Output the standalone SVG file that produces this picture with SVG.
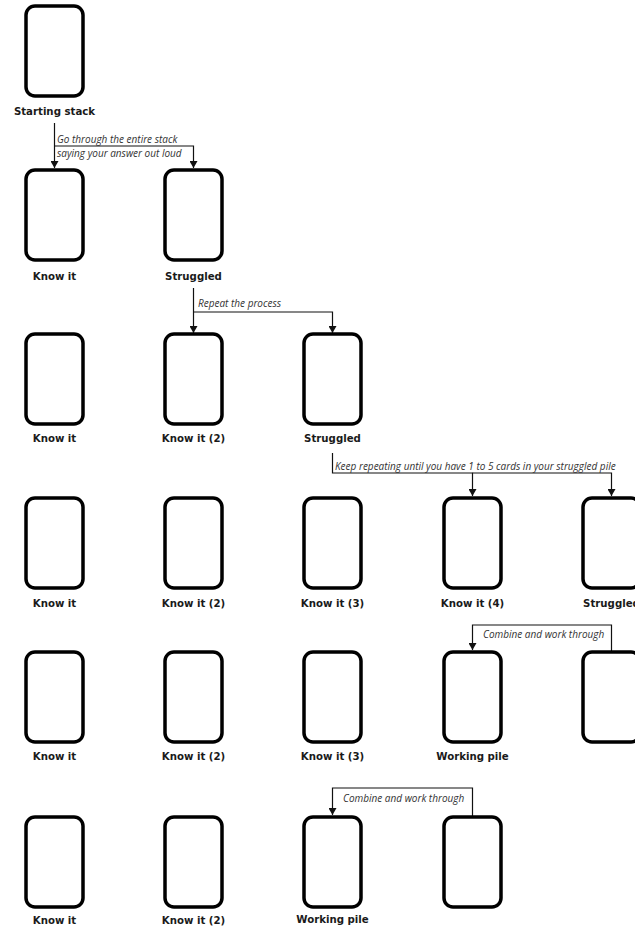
<svg xmlns="http://www.w3.org/2000/svg" width="635" height="929" viewBox="0 0 635 929">
<style>
.card{fill:#fff;stroke:#000;stroke-width:3.5}
.lbl{font-family:"DejaVu Sans","Liberation Sans",sans-serif;font-weight:bold;font-size:10.2px;fill:#1a1a1a;text-anchor:middle}
.note{font-family:"Open Sans","Liberation Sans",sans-serif;font-style:italic;font-size:10px;fill:#333}
.conn{fill:none;stroke:#111;stroke-width:1.2}
</style>
<defs>
<marker id="ad" markerUnits="userSpaceOnUse" markerWidth="8" markerHeight="8" viewBox="0 0 8 8" refX="4" refY="8" orient="0">
<path d="M0,1 L8,1 L4,8 Z" fill="#111"/>
</marker>
<rect id="c" class="card" width="57" height="90" rx="9"/>
</defs>
<rect width="635" height="929" fill="#fff"/>
<g id="connectors">
<path class="conn" d="M54.5,123 V168" marker-end="url(#ad)"/>
<path class="conn" d="M54.5,146 H193.5 V168" marker-end="url(#ad)"/>
<path class="conn" d="M193.5,288 V333" marker-end="url(#ad)"/>
<path class="conn" d="M193.5,312 H332.5 V333" marker-end="url(#ad)"/>
<path class="conn" d="M332.5,453 V473 H472.5 V496" marker-end="url(#ad)"/>
<path class="conn" d="M472.5,473 H611.5 V496" marker-end="url(#ad)"/>
<path class="conn" d="M611.5,652 V625 H472.5 V650" marker-end="url(#ad)"/>
<path class="conn" d="M472.5,817 V788 H332.5 V815" marker-end="url(#ad)"/>
<text class="note" x="57" y="143">Go through the entire stack</text>
<text class="note" x="57" y="157">saying your answer out loud</text>
<text class="note" x="198" y="307">Repeat the process</text>
<text class="note" x="335" y="470">Keep repeating until you have 1 to 5 cards in your struggled pile</text>
<text class="note" x="483" y="638">Combine and work through</text>
<text class="note" x="343" y="802">Combine and work through</text>
</g>
<g id="n1"><use href="#c" x="26" y="6"/><text class="lbl" x="54.5" y="115">Starting stack</text></g>
<g id="n2a"><use href="#c" x="26" y="170"/><text class="lbl" x="54.5" y="280">Know it</text></g>
<g id="n2b"><use href="#c" x="165" y="170"/><text class="lbl" x="193.5" y="280">Struggled</text></g>
<g id="n3a"><use href="#c" x="26" y="334"/><text class="lbl" x="54.5" y="442">Know it</text></g>
<g id="n3b"><use href="#c" x="165" y="334"/><text class="lbl" x="193.5" y="442">Know it (2)</text></g>
<g id="n3c"><use href="#c" x="304" y="334"/><text class="lbl" x="332.5" y="442">Struggled</text></g>
<g id="n4a"><use href="#c" x="26" y="498"/><text class="lbl" x="54.5" y="607">Know it</text></g>
<g id="n4b"><use href="#c" x="165" y="498"/><text class="lbl" x="193.5" y="607">Know it (2)</text></g>
<g id="n4c"><use href="#c" x="304" y="498"/><text class="lbl" x="332.5" y="607">Know it (3)</text></g>
<g id="n4d"><use href="#c" x="444" y="498"/><text class="lbl" x="472.5" y="607">Know it (4)</text></g>
<g id="n4e"><use href="#c" x="583" y="498"/><text class="lbl" x="611.5" y="607">Struggled</text></g>
<g id="n5a"><use href="#c" x="26" y="652"/><text class="lbl" x="54.5" y="760">Know it</text></g>
<g id="n5b"><use href="#c" x="165" y="652"/><text class="lbl" x="193.5" y="760">Know it (2)</text></g>
<g id="n5c"><use href="#c" x="304" y="652"/><text class="lbl" x="332.5" y="760">Know it (3)</text></g>
<g id="n5d"><use href="#c" x="444" y="652"/><text class="lbl" x="472.5" y="760">Working pile</text></g>
<g id="n5e"><use href="#c" x="583" y="652"/></g>
<g id="n6a"><use href="#c" x="26" y="817"/><text class="lbl" x="54.5" y="924">Know it</text></g>
<g id="n6b"><use href="#c" x="165" y="817"/><text class="lbl" x="193.5" y="924">Know it (2)</text></g>
<g id="n6c"><use href="#c" x="304" y="817"/><text class="lbl" x="332.5" y="923">Working pile</text></g>
<g id="n6d"><use href="#c" x="444" y="817"/></g>
</svg>
